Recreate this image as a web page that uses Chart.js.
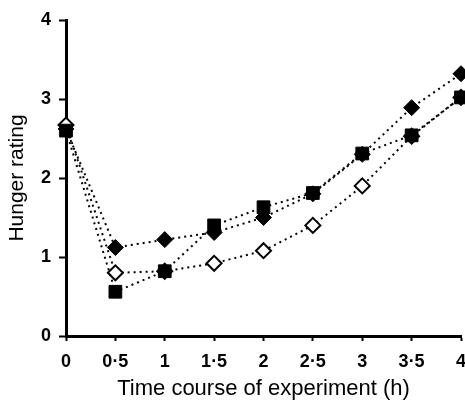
<!DOCTYPE html>
<html>
<head>
<meta charset="utf-8">
<script src="https://cdn.jsdelivr.net/npm/chart.js@4/dist/chart.umd.min.js"></script>
<style>
  html, body { margin: 0; padding: 0; background: #fff; }
  #wrap { width: 465px; height: 400px; }
</style>
</head>
<body>
<div id="wrap"><canvas id="hungerChart" width="465" height="400"></canvas></div>
<script>
// data
const hours = [0, 0.5, 1, 1.5, 2, 2.5, 3, 3.5, 4];
const filledDiamond = [2.62, 1.12, 1.22, 1.31, 1.5, 1.8, 2.3, 2.89, 3.32];
const filledSquare = [2.6, 0.56, 0.82, 1.4, 1.63, 1.81, 2.31, 2.54, 3.02];
const openDiamond = [2.67, 0.8, 0.82, 0.92, 1.08, 1.4, 1.9, 2.53, 3.02];
const xTickLabels = ['0', '0·5', '1', '1·5', '2', '2·5', '3', '3·5', '4'];
const yTickLabels = ['0', '1', '2', '3', '4'];

const toPoints = (vals) => hours.map((h, i) => ({ x: h, y: vals[i] }));

document.addEventListener('DOMContentLoaded', () => {
    const ctx = document.getElementById('hungerChart').getContext('2d');
    const fontFamily = "'Liberation Sans', Arial, sans-serif";

    const lineStyle = {
        borderColor: '#000',
        borderWidth: 2,
        borderDash: [2, 4],
        tension: 0,
        clip: false,
        showLine: true,
    };

    new Chart(ctx, {
        type: 'scatter',
        data: {
            datasets: [
                {
                    ...lineStyle,
                    label: 'filled square',
                    data: toPoints(filledSquare),
                    pointStyle: 'rect',
                    pointRadius: 9,
                    pointBackgroundColor: '#000',
                    pointBorderColor: '#000',
                    pointBorderWidth: 1,
                    order: 1
                },
                {
                    ...lineStyle,
                    label: 'open diamond',
                    data: toPoints(openDiamond),
                    pointStyle: 'rectRot',
                    pointRadius: 7.5,
                    pointBackgroundColor: '#fff',
                    pointBorderColor: '#000',
                    pointBorderWidth: 2,
                    order: 2
                },
                {
                    ...lineStyle,
                    label: 'filled diamond',
                    data: toPoints(filledDiamond),
                    pointStyle: 'rectRot',
                    pointRadius: 8,
                    pointBackgroundColor: '#000',
                    pointBorderColor: '#000',
                    pointBorderWidth: 1,
                    order: 3
                }
            ]
        },
        options: {
            responsive: false,
            animation: false,
            layout: {
                autoPadding: false,
                padding: { left: 0, right: 4, top: 20, bottom: 0 }
            },
            plugins: {
                legend: { display: false },
                tooltip: { enabled: false }
            },
            scales: {
                x: {
                    type: 'linear',
                    min: 0,
                    max: 4,
                    afterFit: (scale) => {
                        scale.height = 64;
                        // let the last label run off the edge like the print
                        scale.paddingLeft = 0;
                        scale.paddingRight = 0;
                    },
                    afterBuildTicks: (scale) => {
                        scale.ticks = hours.map(v => ({ value: v }));
                    },
                    border: { color: '#000', width: 3 },
                    grid: {
                        drawOnChartArea: false,
                        drawTicks: true,
                        tickLength: 5,
                        tickWidth: 2,
                        tickColor: '#000'
                    },
                    ticks: {
                        color: '#000',
                        padding: 10,
                        maxRotation: 0,
                        autoSkip: false,
                        font: { family: fontFamily, size: 18, weight: 'bold' },
                        callback: (value, index) => xTickLabels[index]
                    },
                    title: {
                        display: true,
                        text: 'Time course of experiment (h)',
                        color: '#000',
                        padding: { top: 0, bottom: 0 },
                        font: { family: fontFamily, size: 22, lineHeight: 1 }
                    }
                },
                y: {
                    type: 'linear',
                    min: 0,
                    max: 4,
                    afterFit: (scale) => { scale.width = 66; },
                    afterBuildTicks: (scale) => {
                        scale.ticks = yTickLabels.map(v => ({ value: Number(v) }));
                    },
                    border: { color: '#000', width: 3 },
                    grid: {
                        drawOnChartArea: false,
                        drawTicks: true,
                        tickLength: 7,
                        tickWidth: 2,
                        tickColor: '#000'
                    },
                    ticks: {
                        color: '#000',
                        padding: 8,
                        font: { family: fontFamily, size: 18, weight: 'bold' },
                        callback: (value, index) => yTickLabels[index]
                    },
                    title: {
                        display: true,
                        text: 'Hunger rating',
                        color: '#000',
                        padding: { top: 7, bottom: 0 },
                        font: { family: fontFamily, size: 21, lineHeight: 1 }
                    }
                }
            }
        }
    });
});
</script>
</body>
</html>
